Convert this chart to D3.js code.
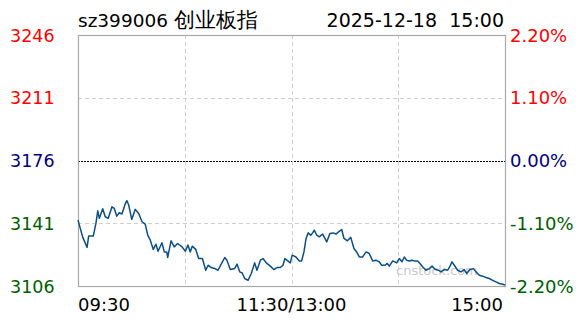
<!DOCTYPE html>
<html>
<head>
<meta charset="utf-8">
<script src="https://cdn.jsdelivr.net/npm/d3@7"></script>
<style>
  html, body { margin: 0; padding: 0; background: #fff; }
  svg { display: block; font-family: "DejaVu Sans", Verdana, sans-serif; }
</style>
</head>
<body>
<svg id="chart" width="588" height="324"></svg>
<script>
// ---- data ----
const titleCode = "sz399006";
const titleName = "创业板指";
const dateText = "2025-12-18";
const timeText = "15:00";
const prevClose = 3176;
const pctRange = 0.022;
const leftLabels = ["3246", "3211", "3176", "3141", "3106"];
const rightLabels = ["2.20%", "1.10%", "0.00%", "-1.10%", "-2.20%"];
const labelColors = ["#ff0000", "#ff0000", "#000080", "#006000", "#006000"];
const timeLabels = ["09:30", "11:30/13:00", "15:00"];
// minutes elapsed since 09:30 (trading minutes, 0..240)
const minutes = [0, 2.6, 5.1, 6.0, 8.6, 10.1, 11.1, 12.0, 13.9, 15.3, 17.0, 19.1, 20.4, 21.8, 23.2, 24.7, 26.6, 27.5, 28.5, 30.2,
  32.2, 34.1, 36.0, 37.8, 39.2, 40.5, 42.3, 43.8, 45.0, 47.2, 48.5, 49.9, 50.4, 52.3, 54.1, 56.0, 58.5, 60.3, 61.8, 63.1,
  64.2, 66.2, 67.8, 69.9, 71.8, 73.1, 74.9, 76.8, 78.7, 80.5, 82.5, 83.7, 85.6, 88.1, 89.4, 90.9, 92.3, 93.7, 95.6, 97.4,
  99.3, 100.6, 102.5, 104.0, 105.8, 108.1, 110.0, 111.8, 113.7, 115.2, 116.3, 119.3, 120.4, 122.5, 124.4, 125.7, 127.0, 128.2, 129.4, 130.8,
  131.9, 132.8, 134.2, 135.6, 137.5, 139.8, 141.6, 143.5, 145.0, 146.5, 148.2, 149.5, 151.4, 153.3, 155.1, 156.6, 158.1, 160.0, 161.9, 163.7,
  165.6, 167.5, 169.3, 170.7, 172.6, 173.8, 175.0, 176.9, 179.1, 180.6, 182.1, 183.4, 184.7, 186.2, 187.7, 189.0, 190.9, 192.2, 193.7, 195.6,
  197.5, 199.0, 200.8, 202.7, 204.0, 205.9, 207.8, 209.1, 210.2, 211.5, 213.4, 215.3, 217.1, 218.5, 220.3, 222.2, 223.7, 225.6, 227.5, 229.3,
  231.2, 233.1, 234.9, 236.8, 238.7, 240];
const prices = [3142.8, 3133.5, 3127.6, 3133.9, 3133.9, 3141.1, 3148.0, 3143.8, 3149.1, 3144.7, 3143.8, 3150.2, 3149.3, 3145.0, 3146.9, 3146.2, 3152.1, 3153.6, 3151.2, 3143.2,
  3148.8, 3146.5, 3141.9, 3140.6, 3134.4, 3132.0, 3126.5, 3129.4, 3125.5, 3130.2, 3125.1, 3125.1, 3122.0, 3131.3, 3127.9, 3129.8, 3127.9, 3125.5, 3128.9, 3125.1,
  3128.3, 3126.5, 3121.4, 3121.4, 3114.9, 3117.7, 3116.4, 3115.9, 3114.9, 3118.3, 3122.0, 3120.5, 3115.3, 3115.9, 3118.3, 3114.0, 3113.4, 3110.3, 3109.3, 3113.1,
  3119.0, 3114.9, 3120.5, 3121.4, 3119.0, 3117.2, 3115.3, 3116.4, 3116.4, 3117.7, 3121.4, 3119.0, 3123.3, 3122.3, 3120.1, 3120.1, 3125.1, 3132.6, 3135.7, 3134.4,
  3135.7, 3137.2, 3134.4, 3133.5, 3135.0, 3130.7, 3135.4, 3135.7, 3135.0, 3136.3, 3137.6, 3132.6, 3131.3, 3133.2, 3127.0, 3125.1, 3122.3, 3122.3, 3125.1, 3124.2,
  3120.1, 3120.5, 3119.6, 3117.7, 3117.7, 3118.7, 3117.2, 3120.1, 3119.0, 3121.4, 3119.6, 3122.3, 3120.5, 3120.1, 3120.5, 3120.1, 3120.1, 3118.7, 3116.8, 3114.9,
  3115.8, 3117.2, 3115.3, 3114.9, 3114.0, 3115.3, 3114.9, 3117.2, 3119.6, 3117.7, 3114.9, 3114.0, 3115.3, 3113.1, 3115.3, 3115.8, 3114.0, 3112.1, 3111.6, 3110.9,
  3110.3, 3109.3, 3108.4, 3107.5, 3107.1, 3106.7];

// ---- layout ----
const L = 78, R = 505, T = 35, B = 286;
const svg = d3.select("#chart");

const x = d3.scaleLinear().domain([0, 240]).range([L, R]);
const y = d3.scaleLinear().domain([prevClose * (1 - pctRange), prevClose * (1 + pctRange)]).range([B, T]);
const tickValues = d3.range(5).map(i => prevClose * (1 + pctRange - i * pctRange / 2));

// horizontal grid (dashed, except the previous-close line)
svg.append("g").selectAll("line")
  .data(tickValues.slice(1, 4))
  .join("line")
  .attr("x1", L).attr("x2", R)
  .attr("y1", d => Math.round(y(d)) + 0.5).attr("y2", d => Math.round(y(d)) + 0.5)
  .attr("stroke", (d, i) => i === 1 ? "#000" : "#cfcfcf")
  .attr("stroke-dasharray", (d, i) => i === 1 ? "2,1" : "4,3")
  .attr("stroke-width", 1);

// vertical grid
svg.append("g").selectAll("line")
  .data([60, 120, 180])
  .join("line")
  .attr("x1", d => Math.round(x(d)) + 0.5).attr("x2", d => Math.round(x(d)) + 0.5)
  .attr("y1", T).attr("y2", B)
  .attr("stroke", "#cfcfcf")
  .attr("stroke-dasharray", "4,3");

// watermark
svg.append("text")
  .attr("x", 396).attr("y", 275)
  .attr("font-size", 13)
  .attr("fill", "#c8c8c8")
  .text("cnstock.com");

// frame
svg.append("rect")
  .attr("x", L + 0.5).attr("y", T + 0.5)
  .attr("width", R - L).attr("height", B - T)
  .attr("fill", "none").attr("stroke", "#a8a8a8").attr("stroke-width", 1.2);

// price line
const data = minutes.map((m, i) => ({ m, p: prices[i] }));
svg.append("path")
  .datum(data)
  .attr("fill", "none")
  .attr("stroke", "#0b4f89")
  .attr("stroke-width", 1.5)
  .attr("stroke-linejoin", "round")
  .attr("d", d3.line().x(d => x(d.m)).y(d => y(d.p)));

// left axis labels
svg.append("g").selectAll("text")
  .data(tickValues)
  .join("text")
  .attr("x", 10)
  .attr("y", (d, i) => Math.max(y(d), 33) + 6.5)
  .attr("font-size", 17.5)
  .attr("fill", (d, i) => labelColors[i])
  .text((d, i) => leftLabels[i]);

// right axis labels
svg.append("g").selectAll("text")
  .data(tickValues)
  .join("text")
  .attr("x", 510)
  .attr("y", (d, i) => Math.max(y(d), 33) + 6.5)
  .attr("font-size", 18)
  .attr("fill", (d, i) => labelColors[i])
  .text((d, i) => rightLabels[i]);

// time labels
const timePos = [0, 120, 240];
const anchors = ["start", "middle", "end"];
const offs = [0, 0, -2];
svg.append("g").selectAll("text")
  .data(timeLabels)
  .join("text")
  .attr("x", (d, i) => x(timePos[i]) + offs[i])
  .attr("y", 310.5)
  .attr("font-size", 18)
  .attr("text-anchor", (d, i) => anchors[i])
  .attr("fill", "#000")
  .text(d => d);

// title & date
const t = svg.append("text")
  .attr("x", 78).attr("y", 27)
  .attr("font-size", 18.5)
  .attr("fill", "#000");
t.append("tspan").text(titleCode + " ");
t.append("tspan").attr("font-size", 20.5).text(titleName);

svg.append("text")
  .attr("x", 437).attr("y", 27)
  .attr("font-size", 19)
  .attr("text-anchor", "end")
  .attr("fill", "#000")
  .text(dateText);
svg.append("text")
  .attr("x", 504).attr("y", 27)
  .attr("font-size", 19)
  .attr("text-anchor", "end")
  .attr("fill", "#000")
  .text(timeText);
</script>
</body>
</html>
